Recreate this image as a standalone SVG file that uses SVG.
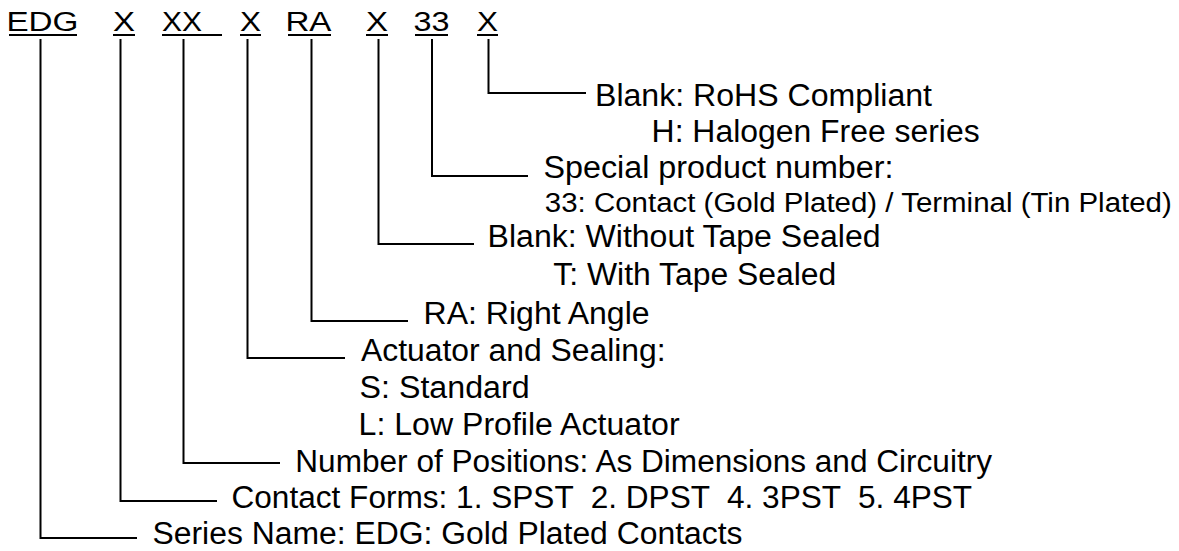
<svg xmlns="http://www.w3.org/2000/svg" width="1179" height="551" viewBox="0 0 1179 551">
<style>
text{font-family:"Liberation Sans",Arial,"Helvetica",sans-serif;fill:#000;}
.code{font-size:27px;}
.desc{font-size:31px;}
.small{font-size:27px;}
.ul{stroke:#000;stroke-width:2;fill:none;}
.conn{stroke:#000;stroke-width:2;fill:none;stroke-linejoin:miter;}
</style>
<rect width="1179" height="551" fill="#fff"/>
<g id="code-EDG"><text class="code" x="6.4" y="31" textLength="72" lengthAdjust="spacingAndGlyphs">EDG</text><line class="ul" x1="9" y1="35" x2="77" y2="35"/></g>
<g id="code-X1"><text class="code" x="113" y="31" textLength="22" lengthAdjust="spacingAndGlyphs">X</text><line class="ul" x1="113" y1="35" x2="135" y2="35"/></g>
<g id="code-XX"><text class="code" x="162" y="31" textLength="40" lengthAdjust="spacingAndGlyphs">XX</text><line class="ul" x1="162" y1="35" x2="222" y2="35"/></g>
<g id="code-X2"><text class="code" x="240" y="31" textLength="21" lengthAdjust="spacingAndGlyphs">X</text><line class="ul" x1="240" y1="35" x2="261" y2="35"/></g>
<g id="code-RA"><text class="code" x="285.4" y="31" textLength="46" lengthAdjust="spacingAndGlyphs">RA</text><line class="ul" x1="288" y1="35" x2="331" y2="35"/></g>
<g id="code-X3"><text class="code" x="366" y="31" textLength="22" lengthAdjust="spacingAndGlyphs">X</text><line class="ul" x1="366" y1="35" x2="388" y2="35"/></g>
<g id="code-33"><text class="code" x="413.6" y="31" textLength="36" lengthAdjust="spacingAndGlyphs">33</text><line class="ul" x1="415" y1="35" x2="448" y2="35"/></g>
<g id="code-X4"><text class="code" x="477" y="31" textLength="21" lengthAdjust="spacingAndGlyphs">X</text><line class="ul" x1="477" y1="35" x2="498" y2="35"/></g>

<g id="connectors">
<polyline class="conn" points="488.5,39 488.5,93 586,93"/>
<polyline class="conn" points="432,39 432,176 528,176"/>
<polyline class="conn" points="378.5,39 378.5,244 474,244"/>
<polyline class="conn" points="311.5,39 311.5,321 408,321"/>
<polyline class="conn" points="247.5,39 247.5,358 345,358"/>
<polyline class="conn" points="183.5,39 183.5,463 280,463"/>
<polyline class="conn" points="120.5,39 120.5,501 217,501"/>
<polyline class="conn" points="40.5,39 40.5,538 137,538"/>
</g>

<g id="desc-halogen">
<text class="desc" x="595" y="105.5" textLength="337" lengthAdjust="spacingAndGlyphs">Blank: RoHS Compliant</text>
<text class="desc" x="651.6" y="141.7" textLength="328" lengthAdjust="spacingAndGlyphs">H: Halogen Free series</text>
</g>
<g id="desc-special">
<text class="desc" x="543.5" y="178.3" textLength="350" lengthAdjust="spacingAndGlyphs">Special product number:</text>
<text class="small" x="544.8" y="211.7" textLength="627" lengthAdjust="spacingAndGlyphs">33: Contact (Gold Plated) / Terminal (Tin Plated)</text>
</g>
<g id="desc-tape">
<text class="desc" x="487.6" y="246.7" textLength="393" lengthAdjust="spacingAndGlyphs">Blank: Without Tape Sealed</text>
<text class="desc" x="553.3" y="285" textLength="283" lengthAdjust="spacingAndGlyphs">T: With Tape Sealed</text>
</g>
<g id="desc-ra">
<text class="desc" x="423.6" y="324" textLength="226" lengthAdjust="spacingAndGlyphs">RA: Right Angle</text>
</g>
<g id="desc-actuator">
<text class="desc" x="361" y="361" textLength="304.6" lengthAdjust="spacingAndGlyphs">Actuator and Sealing:</text>
<text class="desc" x="359.6" y="398" textLength="170" lengthAdjust="spacingAndGlyphs">S: Standard</text>
<text class="desc" x="358.6" y="435" textLength="321" lengthAdjust="spacingAndGlyphs">L: Low Profile Actuator</text>
</g>
<g id="desc-positions">
<text class="desc" x="295.3" y="471.5" textLength="696.7" lengthAdjust="spacingAndGlyphs">Number of Positions: As Dimensions and Circuitry</text>
</g>
<g id="desc-contact">
<text class="desc" x="231.5" y="508" xml:space="preserve" textLength="740.6" lengthAdjust="spacingAndGlyphs">Contact Forms: 1. SPST  2. DPST  4. 3PST  5. 4PST</text>
</g>
<g id="desc-series">
<text class="desc" x="152.5" y="544" textLength="590" lengthAdjust="spacingAndGlyphs">Series Name: EDG: Gold Plated Contacts</text>
</g>
</svg>
